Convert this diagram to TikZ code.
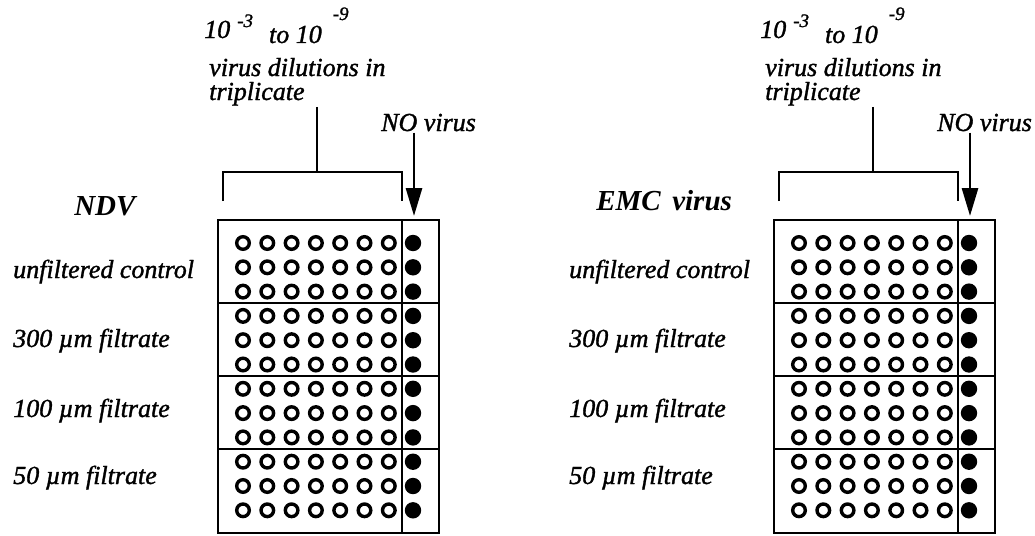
\documentclass[tikz,border=0pt]{standalone}
\usepackage{fontspec}
\setmainfont{Liberation Serif}
\newfontfamily\scanfont[FakeBold=1.3]{Liberation Serif}
\usetikzlibrary{arrows.meta}

\tikzset{
  txt/.style={font=\scanfont\fontsize{26}{26}\selectfont\itshape, inner sep=0pt, anchor=base west},
  ttl/.style={font=\fontsize{29}{29}\selectfont\bfseries\itshape, inner sep=0pt, anchor=base west},
  well/.style={draw, line width=3.4pt},
  brace/.style={line width=2.8pt},
}
\newcommand{\supx}[2]{\raisebox{#1}{\fontsize{19}{19}\selectfont #2}}

\begin{document}
\begin{tikzpicture}[x=1pt,y=-1pt,line width=2.5pt]
  \useasboundingbox (0,0) rectangle (1035,535);
  \foreach \ox/\ptitle/\tx/\ty in {0/NDV/73/215, 556/{EMC\hspace{.4em}virus}/39/210}{
  \begin{scope}[xshift=\ox pt]
    % plate
    \node[draw, line width=2.8pt, minimum width=221pt, minimum height=313pt,
      inner sep=0pt, outer sep=0pt, anchor=north west] (plate) at (218,220) {};
    \draw (402,220) -- (402,533);
    \foreach \yy in {303,376,449}
      \draw (218,\yy) -- (439,\yy);
    \foreach \row in {0,...,11}{
      \pgfmathsetmacro\yy{243+24.3*\row}
      \foreach \col in {0,...,6}
        \draw[well] (243+24.3*\col,\yy) circle[radius=6.3pt];
      \fill (413,\yy) circle[radius=8.2pt];
    }

    % labels
    \node[ttl] (title) at (\tx,\ty) {\ptitle};
    \node[txt] (ctl) at (12,278) {unfiltered control};
    \node[txt] (f300) at (12,347) {300 µm filtrate};
    \node[txt] (f100) at (12,417) {100 µm filtrate};
    \node[txt] (f50) at (12,484) {50 µm filtrate};

    % dilutions and bracket
    \node[txt] (dilA) at (203,38) {10\hspace{7pt}\supx{11pt}{-3}\hspace{16pt}\raisebox{-5pt}{to 10}\hspace{11pt}\supx{18pt}{-9}};
    \node[txt] (dilB) at (208,76) {virus dilutions in};
    \node[txt] (dilC) at (208,100) {triplicate};
    \coordinate (brk) at (317,172);
    \draw[brace] (223,201) |- (402,172) -- (402,201);
    \draw[brace] (dilC.south -| brk) -- (brk);

    % negative control
    \node[txt] (novir) at (380,131) {NO virus};
    \coordinate (nvx) at (414,0);
    \draw[brace, -{Triangle[width=16pt,length=28pt]}, shorten >=4pt]
      (novir.south -| nvx) -- (plate.north -| nvx);
  \end{scope}
  }
\end{tikzpicture}
\end{document}
